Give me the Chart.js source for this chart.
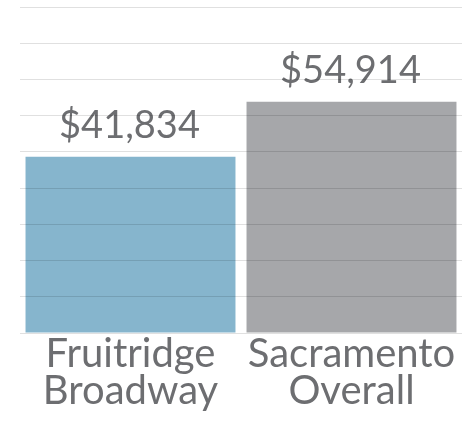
<!DOCTYPE html>
<html>
<head>
<meta charset="utf-8">
<script src="https://cdn.jsdelivr.net/npm/chart.js@4"></script>
<style>
html,body{margin:0;padding:0;background:#fff;}
#wrap{width:467px;height:422px;}
</style>
</head>
<body>
<div id="wrap"><canvas id="c" width="467" height="422"></canvas></div>
<script>
const categories = [["Fruitridge","Broadway"],["Sacramento","Overall"]];
const values = [41834, 54914];
const valueLabels = ["$41,834", "$54,914"];
const barColors = ["#86b5cd", "#a6a7aa"];
const textColor = "#6d6e71";

const valueLabelPlugin = {
  id: 'valueLabels',
  afterDatasetsDraw(chart) {
    const ctx = chart.ctx;
    const meta = chart.getDatasetMeta(0);
    ctx.save();
    ctx.font = '38px Lato';
    ctx.fillStyle = textColor;
    ctx.textAlign = 'center';
    ctx.textBaseline = 'alphabetic';
    meta.data.forEach((el, i) => {
      ctx.fillText(valueLabels[i], el.x - 1, el.y - 19);
    });
    ctx.restore();
  }
};

new Chart(document.getElementById('c'), {
  type: 'bar',
  data: {
    labels: categories,
    datasets: [{
      data: values,
      backgroundColor: barColors,
      borderWidth: 0,
      barPercentage: 0.95,
      categoryPercentage: 1.0
    }]
  },
  options: {
    responsive: false,
    animation: false,
    devicePixelRatio: 1,
    layout: { padding: { left: 20, right: 5, top: 7, bottom: 0 } },
    plugins: { legend: { display: false }, tooltip: { enabled: false } },
    scales: {
      x: {
        grid: { display: false },
        border: { display: false },
        afterFit(scale) { scale.height = 89; },
        ticks: {
          color: textColor,
          font: { family: 'Lato', size: 40, lineHeight: '37px' },
          padding: -5,
          maxRotation: 0
        }
      },
      y: {
        min: 0,
        max: 77400,
        ticks: { display: false, stepSize: 8600 },
        grid: { color: 'rgba(0,0,0,0.12)', drawTicks: false, z: 1, lineWidth: 1 },
        border: { display: false }
      }
    }
  },
  plugins: [valueLabelPlugin]
});
</script>
</body>
</html>
